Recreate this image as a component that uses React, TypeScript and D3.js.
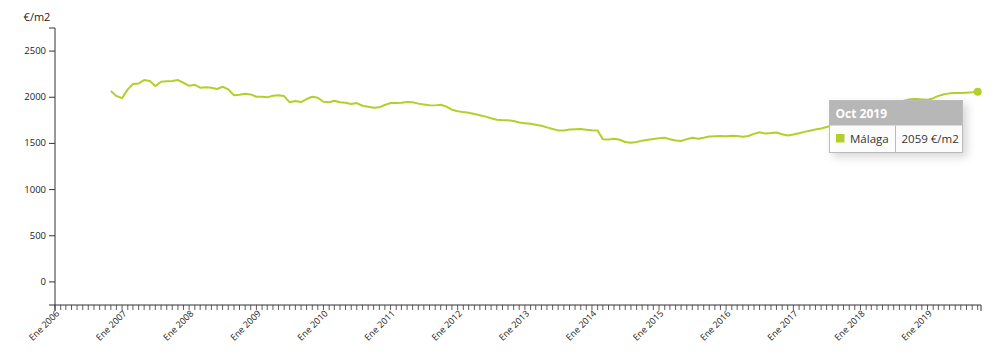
import React from "react";
import * as d3 from "d3";

const seriesName = "Málaga";
const unitLabel = "€/m2";
const startYear = 2006; // axis starts Ene 2006
const firstDataMonth = new Date(2006, 10, 1); // Nov 2006
const values: number[] = [
  2067, 2013, 1991, 2085, 2143, 2150, 2186, 2175, 2121, 2168, 2172, 2175, 2186, 2157, 2124, 2135, 2103, 2107, 2103, 2089, 2114, 2085, 2021, 2027, 2038, 2031, 2005, 2005,
  1999, 2016, 2021, 2013, 1945, 1959, 1948, 1981, 2005, 1995, 1951, 1945, 1962, 1945, 1940, 1926, 1937, 1908, 1897, 1886, 1891, 1916, 1937, 1937, 1940, 1948, 1945,
  1931, 1922, 1913, 1912, 1919, 1898, 1865, 1848, 1839, 1833, 1819, 1805, 1790, 1772, 1756, 1750, 1752, 1743, 1727, 1719, 1712, 1703, 1692, 1674, 1656, 1641, 1640, 1650, 1654, 1656, 1649, 1643,
  1640, 1545, 1543, 1550, 1540, 1515, 1508, 1515, 1530, 1540, 1549, 1555, 1561, 1545, 1531, 1527, 1546, 1562, 1550, 1562, 1575, 1578, 1580, 1578, 1583, 1580, 1572, 1580, 1603, 1621,
  1608, 1612, 1618, 1600, 1585, 1596, 1610, 1625, 1638, 1650, 1661, 1677, 1700, 1720, 1740, 1760, 1775, 1795, 1815, 1830, 1850, 1868, 1885, 1915, 1950, 1965, 1978, 1980, 1977, 1972,
  1990, 2015, 2032, 2042, 2045, 2047, 2050, 2053, 2059,
];
const yTicks = [0, 500, 1000, 1500, 2000, 2500];
const yDomain = [-250, 2750];
const monthNames = ["Ene", "Feb", "Mar", "Abr", "May", "Jun", "Jul", "Ago", "Sep", "Oct", "Nov", "Dic"];

const GREEN = "#b5cf2a";
const AXIS = "#333";
const FONT = "'Open Sans', 'Noto Sans', sans-serif";

export default function App() {
  const data = values.map((v, i) => ({ date: d3.timeMonth.offset(firstDataMonth, i), v }));
  const last = data[data.length - 1];
  const left = 55, right = 981, top = 28, bottom = 305;
  const x = d3
    .scaleTime()
    .domain([new Date(startYear, 0, 1), d3.timeDay.offset(last.date, 18)])
    .range([left, right]);
  const y = d3.scaleLinear().domain(yDomain).range([bottom, top]);
  const line = d3
    .line<{ date: Date; v: number }>()
    .x((d) => x(d.date))
    .y((d) => y(d.v))
    .curve(d3.curveLinear);
  const monthTicks = d3.timeMonth.range(new Date(startYear, 0, 1), d3.timeDay.offset(last.date, 1));
  const yearTicks = monthTicks.filter((d) => d.getMonth() === 0);

  const lx = x(last.date), ly = y(last.v);
  const tipX = 829.5, tipY = 100.5, tipW = 133, tipH = 52, headH = 25, divX = 895.5;
  const tipTitle = `${monthNames[last.date.getMonth()]} ${last.date.getFullYear()}`;

  return (
    <svg width={1000} height={362} style={{ position: "absolute", left: 0, top: 0, fontFamily: FONT }}>
      <defs>
        <filter id="shadow" x="-20%" y="-20%" width="150%" height="160%">
          <feDropShadow dx="4" dy="4" stdDeviation="4" floodColor="#000" floodOpacity="0.18" />
        </filter>
      </defs>
      {/* unit label */}
      <text x={37} y={21} textAnchor="middle" fontSize={11} fill="#222">{unitLabel}</text>
      {/* Y axis */}
      <path d={`M${left - 6},${top}H${left}V${bottom}H${left - 6}`} fill="none" stroke={AXIS} strokeWidth={1} />
      {yTicks.map((t) => (
        <g key={t} transform={`translate(0,${y(t)})`}>
          <line x1={left - 6} x2={left} stroke={AXIS} />
          <text x={left - 9} dy="0.32em" textAnchor="end" fontSize={9.5} fill="#222">{t}</text>
        </g>
      ))}
      {/* X axis */}
      <path d={`M${left},${bottom + 6}V${bottom}H${right}V${bottom + 6}`} fill="none" stroke={AXIS} strokeWidth={1} />
      {monthTicks.map((d, i) => (
        <line key={i} x1={x(d)} x2={x(d)} y1={bottom} y2={bottom + 5} stroke={AXIS} strokeWidth={0.8} />
      ))}
      {yearTicks.map((d, i) => (
        <text
          key={i}
          transform={`translate(${x(d) + 5},${bottom + 9}) rotate(-45)`}
          textAnchor="end"
          fontSize={9}
          fill="#222"
        >
          {`Ene ${d.getFullYear()}`}
        </text>
      ))}
      {/* line */}
      <path d={line(data) || ""} fill="none" stroke={GREEN} strokeWidth={2} strokeLinejoin="round" />
      <circle cx={lx} cy={ly} r={4} fill={GREEN} />
      {/* tooltip */}
      <g filter="url(#shadow)">
        <rect x={tipX} y={tipY} width={tipW} height={tipH} fill="#fff" fillOpacity={0.85} stroke="#bbb" />
      </g>
      <rect x={tipX} y={tipY} width={tipW} height={headH} fill="#b3b3b3" fillOpacity={0.95} />
      <rect x={tipX} y={tipY} width={tipW} height={tipH} fill="none" stroke="#bbb" />
      <line x1={divX} x2={divX} y1={tipY + headH} y2={tipY + tipH} stroke="#bbb" />
      <text x={tipX + 6} y={tipY + 17} fontSize={12} fontWeight="bold" fill="#fff">{tipTitle}</text>
      <rect x={836} y={134} width={8.5} height={8.5} fill={GREEN} />
      <text x={850} y={143} fontSize={11.5} fill="#333">{seriesName}</text>
      <text x={901.5} y={143} fontSize={11.5} fill="#333">{`${last.v} ${unitLabel}`}</text>
    </svg>
  );
}
